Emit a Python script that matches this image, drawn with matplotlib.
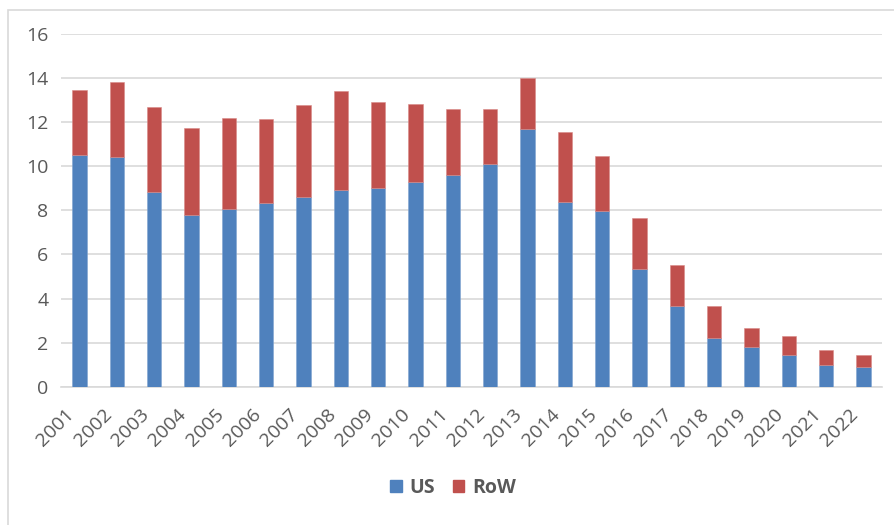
import numpy as np
import matplotlib
matplotlib.use('Agg')
import matplotlib.pyplot as plt
import matplotlib.transforms as mtransforms
from matplotlib.patches import Rectangle, Patch

years = [str(y) for y in range(2001, 2023)]
us = [10.51, 10.41, 8.82, 7.78, 8.08, 8.32, 8.62, 8.94, 9.00, 9.30, 9.60,
      10.10, 11.68, 8.39, 7.97, 5.33, 3.68, 2.22, 1.79, 1.42, 0.98, 0.88]
total = [13.46, 13.82, 12.68, 11.75, 12.18, 12.13, 12.78, 13.40, 12.90, 12.84, 12.60,
         12.60, 14.01, 11.57, 10.47, 7.65, 5.52, 3.68, 2.65, 2.29, 1.68, 1.42]
row = [t - u for t, u in zip(total, us)]

blue = '#4F81BD'
red = '#C0504D'
txt = '#595959'

plt.rcParams['font.family'] = ['Open Sans', 'DejaVu Sans']

fig = plt.figure(figsize=(8.94, 5.25), dpi=100)
# chart border
fig.patches.append(Rectangle((8/894, -0.1), 1.0, (525-10)/525 + 0.1, transform=fig.transFigure,
                             fill=False, edgecolor='#D9D9D9', linewidth=1.2))

ax = fig.add_axes([61/894, (525-386.7)/525, 821/894, (386.7-34)/525])
x = np.arange(len(years))
w = 0.385
ax.bar(x, us, w, color=blue, edgecolor='#7FA3D0', linewidth=0.4, zorder=3)
ax.bar(x, row, w, bottom=us, color=red, edgecolor='#D88A88', linewidth=0.4, zorder=3)

ax.set_xlim(-0.5, len(years) - 0.5)
ax.set_ylim(0, 16)
ax.set_yticks(range(0, 17, 2))
ax.yaxis.grid(True, color='#D9D9D9', linewidth=1.2, zorder=0)
ax.set_axisbelow(True)
for s in ['top', 'right', 'left']:
    ax.spines[s].set_visible(False)
ax.spines['bottom'].set_color('#D9D9D9')
ax.spines['bottom'].set_linewidth(1.2)
ax.tick_params(axis='both', length=0, colors=txt, labelsize=14)
ax.tick_params(axis='y', pad=9)
ax.set_xticks(x)
ax.set_xticklabels(years, rotation=45, ha='right', va='center', rotation_mode='anchor')
ax.tick_params(axis='x', pad=0)
shift = mtransforms.ScaledTranslation(-0.08, -0.25, fig.dpi_scale_trans)
for lab in ax.get_xticklabels():
    lab.set_transform(lab.get_transform() + shift)

handles = [Patch(color=blue, label='US'), Patch(color=red, label='RoW')]
fig.legend(handles=handles, loc='center', bbox_to_anchor=(453/894, 1 - 488/525), ncol=2,
           frameon=False, handlelength=0.6, handleheight=0.6, handletextpad=0.4,
           columnspacing=0.9, prop={'size': 14, 'weight': 'bold'}, labelcolor=txt)

fig.savefig('out.png', dpi=100)
